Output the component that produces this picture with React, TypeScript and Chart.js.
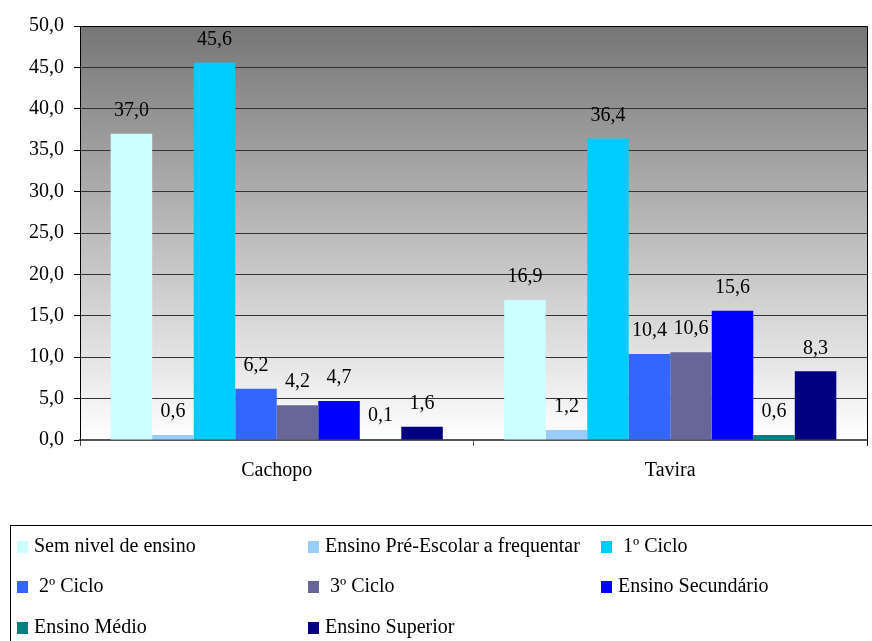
import React, { useEffect, useRef } from "react";
import { Chart, registerables } from "chart.js";

Chart.register(...registerables);

const categories = ["Cachopo", "Tavira"];
const seriesLabels = [
  "Sem nivel de ensino",
  "Ensino Pré-Escolar a frequentar",
  " 1º Ciclo",
  " 2º Ciclo",
  " 3º Ciclo",
  "Ensino Secundário",
  "Ensino Médio",
  "Ensino Superior",
];
const seriesColors = ["#CCFFFF", "#99CCFF", "#00CCFF", "#3366FF", "#666699", "#0000FF", "#008080", "#000080"];
const semNivel = [37.0, 16.9];
const preEscolar = [0.6, 1.2];
const ciclo1 = [45.6, 36.4];
const ciclo2 = [6.2, 10.4];
const ciclo3 = [4.2, 10.6];
const secundario = [4.7, 15.6];
const medio = [0.1, 0.6];
const superior = [1.6, 8.3];
const seriesValues = [semNivel, preEscolar, ciclo1, ciclo2, ciclo3, secundario, medio, superior];

const FONT = "'Liberation Serif', 'Times New Roman', serif";
const fmt = (v: number) => v.toFixed(1).replace(".", ",");

const bgPlugin = {
  id: "bgGradient",
  beforeDraw(chart: any) {
    const { ctx, chartArea: a } = chart;
    const g = ctx.createLinearGradient(0, a.top, 0, a.bottom);
    g.addColorStop(0, "#767676");
    g.addColorStop(1, "#ffffff");
    ctx.save();
    ctx.fillStyle = g;
    ctx.fillRect(a.left, a.top, a.right - a.left, a.bottom - a.top);
    ctx.restore();
  },
  afterDraw(chart: any) {
    const { ctx, chartArea: a } = chart;
    ctx.save();
    ctx.strokeStyle = "#000";
    ctx.lineWidth = 1;
    ctx.beginPath();
    ctx.moveTo(a.left, a.top + 0.5);
    ctx.lineTo(a.right + 0.5, a.top + 0.5);
    ctx.lineTo(a.right + 0.5, a.bottom + 6);
    ctx.stroke();
    ctx.restore();
  },
};

const labelPlugin = {
  id: "valueLabels",
  afterDatasetsDraw(chart: any) {
    const { ctx } = chart;
    ctx.save();
    ctx.font = `20px ${FONT}`;
    ctx.fillStyle = "#000";
    ctx.textAlign = "center";
    ctx.textBaseline = "middle";
    chart.data.datasets.forEach((ds: any, i: number) => {
      const meta = chart.getDatasetMeta(i);
      meta.data.forEach((el: any, j: number) => {
        ctx.fillText(fmt(ds.data[j]), el.x, el.y - 23);
      });
    });
    ctx.restore();
  },
};

const legendPlugin = {
  id: "boxLegend",
  afterDraw(chart: any) {
    const { ctx } = chart;
    ctx.save();
    ctx.strokeStyle = "#000";
    ctx.lineWidth = 1;
    ctx.strokeRect(10.5, 525.5, 870, 130);
    const colX = [17, 308, 601];
    const rowY = [547, 587, 628];
    ctx.font = `20px ${FONT}`;
    ctx.textBaseline = "middle";
    ctx.textAlign = "left";
    chart.data.datasets.forEach((ds: any, i: number) => {
      const x = colX[i % 3];
      const y = rowY[Math.floor(i / 3)];
      ctx.fillStyle = ds.backgroundColor;
      ctx.fillRect(x, y - 6, 11, 12);
      ctx.fillStyle = "#000";
      ctx.fillText(ds.label, x + 17, y);
    });
    ctx.restore();
  },
};

export default function App() {
  const ref = useRef<HTMLCanvasElement>(null);
  useEffect(() => {
    document.body.style.margin = "0";
    const chart = new Chart(ref.current!, {
      type: "bar",
      data: {
        labels: categories,
        datasets: seriesValues.map((vals, i) => ({
          label: seriesLabels[i],
          data: vals,
          backgroundColor: seriesColors[i],
          borderWidth: 0,
          categoryPercentage: 0.844,
          barPercentage: 1,
        })),
      },
      plugins: [bgPlugin, labelPlugin, legendPlugin],
      options: {
        responsive: false,
        animation: false,
        devicePixelRatio: 1,
        layout: { padding: { top: 26, right: 5, bottom: 141, left: 0 } },
        plugins: { legend: { display: false }, tooltip: { enabled: false } },
        scales: {
          x: {
            grid: { offset: true, drawOnChartArea: false, tickLength: 6, color: "#555" },
            border: { display: true, color: "#555", width: 2 },
            ticks: { font: { family: FONT, size: 20 }, color: "#000", padding: 13 },
            afterFit: (s: any) => { s.height = 60; },
          },
          y: {
            min: 0,
            max: 50,
            ticks: { stepSize: 5, font: { family: FONT, size: 20 }, color: "#000", padding: 10, callback: (v: any) => fmt(Number(v)) },
            grid: { color: "#333", tickLength: 6, tickColor: "#000" },
            border: { display: true, color: "#000", width: 1 },
            afterFit: (s: any) => { s.width = 80; },
          },
        },
      },
    });
    return () => chart.destroy();
  }, []);
  return (
    <div style={{ position: "absolute", left: 0, top: 0, width: 872, height: 641, background: "#fff" }}>
      <canvas ref={ref} width={872} height={641} style={{ width: 872, height: 641 }} />
    </div>
  );
}
